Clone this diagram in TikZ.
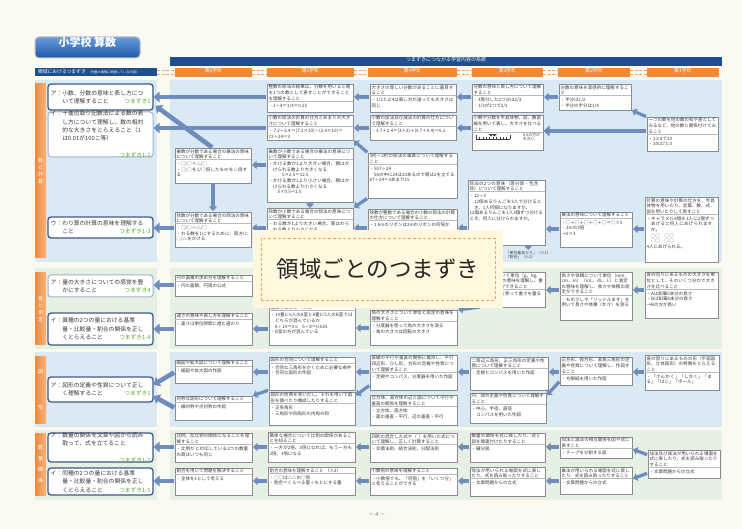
\documentclass[tikz,border=0pt]{standalone}
\usepackage{fontspec}
\setmainfont{Noto Sans CJK JP}
\XeTeXlinebreaklocale "ja"
\XeTeXlinebreakskip=0pt plus 0.5pt
\setlength\parindent{0pt}
\usetikzlibrary{arrows.meta,fit,calc}
\definecolor{bgc}{HTML}{FBFAF1}
\definecolor{hdblue}{HTML}{1D4E8F}
\definecolor{org}{HTML}{EF8A3B}
\definecolor{secblue}{HTML}{D9EAF5}
\definecolor{secgreen}{HTML}{E7F0E5}
\definecolor{arrc}{HTML}{6E8CBC}
\definecolor{lbd}{HTML}{3D5987}
\definecolor{lbl}{HTML}{9EB1CC}
\definecolor{boxg}{HTML}{8C8C8C}
\definecolor{tgreen}{HTML}{5FAE32}
\definecolor{txt}{HTML}{3A3A3A}
\definecolor{ovfill}{HTML}{FFF8DF}
\definecolor{ovdash}{HTML}{F2A35C}
\definecolor{ttop}{HTML}{6A9BDD}
\definecolor{tbot}{HTML}{1E58A6}
\tikzset{
  cbox/.style={draw=boxg, line width=0.6pt, fill=white, inner sep=0pt, outer sep=0pt},
  ctitle/.style={inner sep=0.6pt, outer sep=0pt, align=left, font=\fontsize{4.5}{5.6}\selectfont, text=txt},
  divl/.style={draw=boxg!60, line width=0.4pt},
  arrS/.style={draw=arrc, line width=3.2pt, -{Triangle[width=8pt,length=4.5pt]}, shorten <=1pt, shorten >=1pt},
  arrL/.style={draw=arrc, line width=4.6pt, -{Triangle[width=10.5pt,length=6pt]}, shorten <=1pt, shorten >=0.5pt},
  lboxd/.style={draw=lbd, line width=1.3pt, fill=white, rounded corners=3pt, inner sep=0pt, outer sep=0pt},
  lboxl/.style={draw=lbl, line width=1pt, fill=white, rounded corners=3pt, inner sep=0pt, outer sep=0pt},
  ltext/.style={inner sep=0pt, align=left, font=\fontsize{5.8}{8.4}\selectfont, text=txt},
  obar/.style={left color=org, right color=org!65!white, draw=none, inner sep=0pt},
  otab/.style={fill=org, draw=none, inner sep=0pt, text=white, font=\fontsize{4.8}{5}\selectfont},
  vlab/.style={text=white, align=center, inner sep=0pt},
  zig/.style={draw=org!80, line width=0.5pt, dash pattern=on 3pt off 1.5pt},
  note/.style={inner sep=0.5pt, text=txt, font=\fontsize{3.9}{4.5}\selectfont, align=left},
}
\newcommand\bul[1]{\par\noindent\hangindent=1em\hangafter=1 ・#1}
\newcommand\ind[1]{\par\noindent\hangindent=1em\hangafter=0 #1}
\newcommand\tagg[1]{\hfill{\color{tgreen}#1}}
\newcommand\cbx[7]{%
  \node[cbox, fit={(#2,#3) (#4,#5)}] (#1) {};
  \pgfmathsetmacro\cbw{#4-#2-3.4}%
  \node[ctitle, text width=\cbw pt, anchor=north west] (#1t) at (#2+1,#3+0.6) {#6};
  \draw[divl] (#1t.south -| #1.west) -- (#1t.south -| #1.east);
  \node[ctitle, text width=\cbw pt, anchor=north west] (#1e) at (#1t.south west) {#7};
}
\newcommand\lbx[7]{%
  \node[#6, fit={(#2,#3) (#4,#5)}] (#1) {};
  \pgfmathsetmacro\lbw{#4-#2-5}\pgfmathsetmacro\lby{(#3+#5)/2}%
  \node[ltext, text width=\lbw pt, anchor=west] (#1t) at (#2+2.5,\lby) {#7};
}
\begin{document}
\begin{tikzpicture}[x=1pt,y=-1pt]
\useasboundingbox (0,0) rectangle (742,529);
\fill[bgc] (0,0) rectangle (742,529);
% section backgrounds
\fill[secblue] (35,80) rectangle (157,262);
\fill[secblue] (170,80) rectangle (722,262);
\fill[secgreen] (35,268) rectangle (157,349);
\fill[secgreen] (170,268) rectangle (722,349);
\fill[secblue] (35,352) rectangle (157,427);
\fill[secblue] (170,352) rectangle (722,427);
\fill[secgreen] (35,430) rectangle (157,500);
\fill[secgreen] (170,430) rectangle (722,500);
% header
\node[fit={(35,37) (140,58)}, rounded corners=4pt, top color=ttop, bottom color=tbot, draw=black!25, line width=1pt, inner sep=0pt, text=white, font=\bfseries\fontsize{11}{12}\selectfont] (title) {小学校\ 算数};
\node[fill=hdblue, fit={(170,57) (722,66)}, inner sep=0pt, text=white, font=\fontsize{5}{5}\selectfont] (hbar) {つまずきにつながる学習内容の系統};
\node[fill=hdblue, fit={(35,68) (157,76)}, inner sep=0pt] (lhdr) {};
\node[anchor=west, inner sep=0pt, text=white] at ([xshift=3pt]lhdr.west) {{\fontsize{4.8}{5}\selectfont 領域におけるつまずき}\ {\fontsize{3.2}{4}\selectfont （児童の実態に関連している内容）}};
\node[otab, fit={(175,68) (252,77)}] (g6) {第6学年};
\node[otab, fit={(267,68) (354,77)}] (g5) {第5学年};
\node[otab, fit={(368,68) (457,77)}] (g4) {第4学年};
\node[otab, fit={(472,68) (543,77)}] (g3) {第3学年};
\node[otab, fit={(558,68) (630,77)}] (g2) {第2学年};
\node[otab, fit={(647,68) (719,77)}] (g1) {第1学年};
\foreach \a/\b in {lhdr/g6, g6/g5, g5/g4, g4/g3, g3/g2, g2/g1}{
  \draw[zig] ([yshift=1.8pt]\a.east) -- ([yshift=1.8pt]\a.east -| \b.west);
  \draw[zig] ([yshift=-1.8pt]\a.east) -- ([yshift=-1.8pt]\a.east -| \b.west);
}
% orange bars
\node[obar, fit={(35,84) (46,258)}] (bar1) {};
\node[obar, fit={(35,273) (46,345)}] (bar2) {};
\node[obar, fit={(35,357) (46,423)}] (bar3) {};
\node[obar, fit={(35,433) (46,495)}] (bar4) {};
\node[vlab, font=\fontsize{5}{7}\selectfont] at (bar1.center) {数\\と\\計\\算};
\node[vlab, font=\fontsize{5}{7}\selectfont] at (bar2.center) {量\\と\\測\\定};
\node[vlab, font=\fontsize{5}{36}\selectfont] at (bar3.center) {図\\形};
\node[vlab, font=\fontsize{5}{11}\selectfont] at (bar4.center) {数\\量\\関\\係};
% left boxes
\lbx{L1a}{48}{84}{153}{110}{lboxd}{ア：小数、分数の意味と表し方につ\\\hspace*{2em}いて理解すること\tagg{つまずき1}}
\lbx{L1i}{48}{112}{153}{157}{lboxl}{イ：十進位取り記数法による数の表\\\hspace*{2em}し方について理解し、数の相対\\\hspace*{2em}的な大きさをとらえること（1\\\hspace*{2em}は0.01が100こ等）\\\null\hfill{\color{tgreen}つまずき1-2}}
\lbx{L1u}{48}{217}{153}{238}{lboxd}{ウ：わり算の計算の意味を理解する\\\hspace*{2em}こと\tagg{つまずき1-3}}
\lbx{L2a}{48}{275}{153}{297}{lboxl}{ア：量の大きさについての感覚を豊\\\hspace*{2em}かにすること\tagg{つまずき4}}
\lbx{L2i}{48}{313}{153}{345}{lboxd}{イ：異種の2つの量における基準\\\hspace*{2em}量・比較量・割合の関係を正し\\\hspace*{2em}くとらえること\tagg{つまずき1-4}}
\lbx{L3a}{48}{377}{153}{402}{lboxd}{ア：図形の定義や性質について正し\\\hspace*{2em}く理解すること\tagg{つまずき1}}
\lbx{L4a}{48}{433}{153}{462}{lboxd}{ア：数量の関係を文章や図から読み\\\hspace*{2em}取って、式を立てること\\\null\hfill{\color{tgreen}つまずき1-1}}
\lbx{L4i}{48}{468}{153}{495}{lboxd}{イ：同種の2つの量における基準\\\hspace*{2em}量・比較量・割合の関係を正し\\\hspace*{2em}くとらえること\tagg{つまずき1-1}}
% section 1 boxes
\cbx{B6c}{175}{148}{251}{183}{乗数が分数である場合の乗法の意味について理解すること}{\bul{□/○×△/○}\bul{□/○を1/○倍したものを△倍する}}
\cbx{B6d}{175}{212}{251}{247}{除数が分数である場合の除法の意味について理解すること}{\bul{□/○÷△/○}\bul{わる数を1にするために、両方に○/△をかける}}
\cbx{B5a}{267}{84}{353}{112}{整数の除法の結果は、分数を用いると商を1つの数として表すことができることを理解すること}{\bul{1÷4＝1/4＝0.25}}
\cbx{B5b}{267}{115}{353}{140}{小数の除法の計算の仕方とあまりの大きさについて理解すること}{\bul{7.2÷2.4＝(7.2×10)÷(2.4×10)＝72÷24＝3}}
\cbx{B5c}{267}{148}{353}{202}{乗数が小数である場合の乗法の意味について理解すること}{\bul{かける数が1より大きい場合、積はかけられる数より大きくなる}\ind{\hspace*{2em}5×2.5＝12.5}\bul{かける数が1より小さい場合、積はかけられる数より小さくなる}\ind{\hspace*{2em}5×0.5＝2.5}}
\cbx{B5d}{267}{208}{353}{255}{除数が小数である場合の除法の意味について理解すること}{\bul{わる数が1より大きい場合、商はわられる数より小さくなる}\bul{わる数が1より小さい場合、商はわられる数より大きくなる}}
\cbx{B4a}{370}{84}{456}{112}{大きさの等しい分数があることに着目すること}{\bul{1/2と2/4は表し方が違っても大きさは同じ}}
\cbx{B4b}{370}{115}{456}{140}{小数の加法及び減法の計算の仕方について理解すること}{\bul{3.7＋2.4＝(3＋2)＋(0.7＋0.4)＝6.1}}
\cbx{B4c}{368}{153}{457}{198}{3桁÷2桁の除法の筆算について理解すること}{\bul{567÷24}\ind{56の中に24は20あるので商は2を立てる}\ind{87÷24＝3あまり15}}
\cbx{B4d}{368}{209}{457}{255}{除数が整数である場合の小数の除法の計算の仕方について理解すること}{\bul{1.6mのリボンは2mのリボンの何倍か}}
\cbx{B3a}{472}{84}{543}{112}{分数の意味と表し方について理解すること}{\bul{3等分した2つ分は2/3}\bul{1/3が2つで2/3}}
\cbx{B3b}{472}{115}{543}{150}{小数や分数を半具体物、図、数直線を用いて表し、大きさを比べること}{\rule{0pt}{9pt}}
\coordinate (nl) at ($(B3be.west)+(3,2)$);
\draw[txt, line width=0.5pt] (nl) -- ++(34,0);
\foreach \i in {0,...,10}{\draw[txt, line width=0.3pt] ($(nl)+(\i*3.4,0)$) -- ++(0,-1.6);}
\draw[txt, line width=0.6pt] (nl) -- ++(0,-4);
\draw[txt, line width=0.6pt] ($(nl)+(34,0)$) -- ++(0,-4);
\fill[txt] ($(nl)+(15,-2.5)$) -- ++(2.4,-2.5) -- ++(-4.8,0) -- cycle;
\fill[txt] ($(nl)+(18.4,-2.5)$) -- ++(2.4,-2.5) -- ++(-4.8,0) -- cycle;
\node[note, anchor=east] at ([xshift=-1pt]B3be.east) {0.6の方が\\大きい};
\cbx{B3c}{468}{180}{545}{245}{除法の2つの意味（等分除・包含除）について理解すること}{\bul{12÷3}\ind{12個あるりんごを3人で分けるとき、1人何個になりますか。}\ind{12個あるりんごを1人3個ずつ分けるとき、何人に分けられますか。}}
\node[note, anchor=north west] (N1) at (505,250) {「単位量あたり」（※1）\\「割合」（※2）};
\cbx{B2a}{559}{84}{631}{110}{分数の意味を実感的に理解すること}{\bul{半分は1/2}\bul{半分の半分は1/4}}
\cbx{B2c}{560}{212}{632}{247}{乗法の意味について理解すること}{\bul{□＋□＋□＋□＋□＝□×5}\bul{2mの3倍}\ind{→2×3}}
\cbx{B1b}{647}{117}{718}{151}{一つの数を他の数の和や差としてみるなど、他の数と関係付けてみること}{\bul{2と8で10}\bul{10は7と3}}
\cbx{B1c}{645}{197}{718}{262}{計算の意味や計算の仕方を、半具体物を用いたり、言葉、数、式、図を用いたりして表すこと}{\bul{キャラメル8個を1人に2個ずつあげると何人にあげられますか。}\ind{○○\quad ○○}\ind{○○\quad ○○}\ind{4人にあげられる。}}
% section 2 boxes
\cbx{C6a}{175}{275}{252}{296}{円の面積の求め方を理解すること}{\bul{円の面積、円周の公式}}
\cbx{C6b}{175}{313}{252}{345}{速さの意味や表し方を理解すること}{\bul{速さは単位時間に進む道のり}}
\cbx{C5b}{269}{299}{355}{345}{単位量あたりの大きさの意味や求め方を理解すること\ （※1）}{\bul{10畳に6人のA室と8畳に5人のB室ではどちらが混んでいるか}\ind{6÷10＝0.6\quad 5÷8＝0.625}\bul{B室の方が混んでいる}}
\cbx{C4b}{370}{310}{457}{345}{角の大きさについて単位と測定の意味を理解すること}{\bul{分度器を使って角の大きさを測る}\bul{角の大きさは回転の大きさ}}
\cbx{C3a}{481}{272}{545}{307}{重さについて単位（g、kg、t）と測定の意味を理解し、重さの測定ができること}{\bul{はかりを使って重さを量る}}
\cbx{C2a}{560}{272}{632}{320}{長さや体積について単位（mm、cm、m）（mL、dL、L）と測定の意味を理解し、長さや体積の測定ができること}{\bul{ものさしや「リットルます」を用いて長さや体積（かさ）を測る}}
\cbx{C1a}{645}{272}{718}{318}{身の回りにあるものの大きさを単位として、そのいくつ分かで大きさを比べること}{\bul{Aは鉛筆5本分の長さ}\bul{Bは鉛筆6本分の長さ}\ind{→Bの方が長い}}
% section 3 boxes
\cbx{D6a}{175}{360}{252}{383}{縮図や拡大図について理解すること}{\bul{縮図や拡大図の作図}}
\cbx{D6b}{175}{396}{252}{420}{対称な図形について理解すること}{\bul{線対称や点対称の作図}}
\cbx{D5a}{269}{357}{355}{390}{図形の合同について理解すること}{\bul{合同な三角形をかくために必要な条件}\bul{合同な図形の作図}}
\cbx{D5b}{269}{392}{355}{425}{図形の性質を見いだし、それを用いて図形を調べたり構成したりすること}{\bul{正多角形}\bul{三角形や四角形の内角の和}}
\cbx{D4a}{370}{355}{457}{390}{直線の平行や垂直の関係に着目し、平行四辺形、ひし形、台形の定義や性質について理解すること}{\bul{定規やコンパス、分度器を用いた作図}}
\cbx{D4b}{370}{395}{457}{425}{立方体、直方体の辺と面について平行や垂直の関係を理解すること}{\bul{立方体、直方体}\bul{面の垂直・平行、辺の垂直・平行}}
\cbx{D3a}{470}{357}{548}{390}{二等辺三角形、正三角形の定義や性質について理解すること}{\bul{定規とコンパスを用いた作図}}
\cbx{D3b}{470}{393}{546}{423}{円、球の定義や性質について理解すること}{\bul{中心、半径、直径}\bul{コンパスを用いた作図}}
\cbx{D2a}{560}{357}{632}{385}{正方形、長方形、直角三角形の定義や性質について理解し、作図すること}{\bul{方眼紙を用いた作図}}
\cbx{D1a}{645}{355}{719}{390}{身の回りにあるものの形（平面図形、立体図形）の特徴をとらえること}{\bul{「さんかく」「しかく」「まる」「はこ」「ボール」}}
% section 4 boxes
\cbx{E6a}{175}{433}{252}{462}{比例、反比例の関係になることを理解すること}{\bul{比例だと対応している2つの数量の商はいつも同じ}}
\cbx{E6b}{175}{468}{252}{495}{割合を用いて問題を解決すること}{\bul{全体を1として考える}}
\cbx{E5a}{268}{432}{355}{462}{簡単な場合について比例の関係があることを知ること}{\bul{一方が2倍、3倍になれば、もう一方も2倍、3倍になる}}
\cbx{E5b}{268}{467}{355}{495}{割合の意味を理解すること\ （※2）}{\bul{○○は△△の□倍}\bul{割合＝くらべる量÷もとにする量}}
\cbx{E4a}{370}{433}{457}{462}{四則の混合した式や（\ ）を用いた式について理解し、正しく計算すること}{\bul{交換法則、結合法則、分配法則}}
\cbx{E4b}{370}{468}{457}{495}{小数倍の意味を理解すること}{\bul{小数倍でも、「何倍」を「いくつ分」と考えることができる}}
\cbx{E3a}{470}{433}{545}{462}{数量の関係を式に表したり、式と図を関連付けたりすること}{\bul{線分図}}
\cbx{E3b}{470}{467}{545}{496}{除法が用いられる場面を式に表したり、式を読み取ったりすること}{\bul{文章問題からの立式}}
\cbx{E2a}{560}{437}{632}{458}{加法と減法の相互関係を図や式に表すこと}{\bul{テープを分割する図}}
\cbx{E2b}{560}{467}{632}{494}{乗法が用いられる場面を式に表したり、式を読み取ったりすること}{\bul{文章問題からの立式}}
\cbx{E1}{648}{450}{720}{478}{加法及び減法が用いられる場面を式に表したり、式を読み取ったりすること}{\bul{文章問題からの立式}}
% arrows section 1
\draw[arrL] (B5a.west |- 0,97) -- (L1a.east |- 0,97);
\draw[arrL] (B5b.west |- 0,128) -- (L1i.east |- 0,128);
\draw[arrL, shorten >=3pt] (B6c.north) -- (L1a.east |- 0,104);
\draw[arrS] (B6c.south) -- (B6d.north);
\draw[arrL] (B6d.west |- 0,228) -- (L1u.east |- 0,228);
\draw[arrS] (B5c.west |- 0,165) -- (B6c.east |- 0,165);
\draw[arrS] (B5d.west |- 0,228) -- (B6d.east |- 0,228);
\draw[arrS, line width=2.2pt, shorten <=0pt, shorten >=0pt] (B5c.south) -- (B5d.north);
\draw[arrS] (B4a.west |- 0,97) -- (B5a.east |- 0,97);
\draw[arrS] (B4b.west |- 0,128) -- (B5b.east |- 0,128);
\draw[arrS] (B4c.north west) -- (B5b.south east);
\draw[arrS] (B4c.south west) -- (B5d.north east);
\draw[arrS] (B4d.west |- 0,228) -- (B5d.east |- 0,228);
\draw[arrS] (B3a.west |- 0,97) -- (B4a.east |- 0,97);
\draw[arrS] (B3b.west |- 0,128) -- (B4b.east |- 0,128);
\draw[arrS] (B2a.west |- 0,97) -- (B3a.east |- 0,97);
\draw[arrL] (B1b.west |- 0,131) -- (B3b.east |- 0,131);
\draw[arrS] (B1b.north west) -- (B2a.south east);
\draw[arrS] (B3c.west |- 0,228) -- (B4d.east |- 0,228);
\draw[arrS] (B2c.west |- 0,229) -- (B3c.east |- 0,229);
\draw[arrS] (B1c.west |- 0,229) -- (B2c.east |- 0,229);
\draw[arrS, line width=2.2pt, shorten <=0pt, shorten >=0pt] (B3c.south -| N1.north) -- (N1.north);
% arrows section 2
\draw[arrL] (C6a.west |- 0,285) -- (L2a.east |- 0,285);
\draw[arrL] (C6b.west |- 0,329) -- (L2i.east |- 0,329);
\draw[arrS] (C5b.west |- 0,329) -- (C6b.east |- 0,329);
\draw[arrS] (C4b.west |- 0,328) -- (C5b.east |- 0,328);
\draw[arrS] (C3a.south west) -- (C4b.north east);
\draw[arrS] (C2a.west |- 0,290) -- (C3a.east |- 0,290);
\draw[arrS] (C1a.west |- 0,290) -- (C2a.east |- 0,290);
% arrows section 3
\draw[arrL] (D6a.west |- 0,372) -- (L3a.east |- 0,385);
\draw[arrL] (D6b.west |- 0,408) -- (L3a.east |- 0,396);
\draw[arrS] (D5a.west |- 0,372) -- (D6a.east |- 0,372);
\draw[arrS] (D5a.south west) -- (D6b.north east);
\draw[arrS] (D4a.west |- 0,372) -- (D5a.east |- 0,372);
\draw[arrS] (D4a.west |- 0,385) -- (D5b.east |- 0,396);
\draw[arrS] (D3a.west |- 0,372) -- (D4a.east |- 0,372);
\draw[arrS] (D2a.west |- 0,372) -- (D3a.east |- 0,372);
\draw[arrS] (D2a.west |- 0,381) -- (D3b.east |- 0,396);
\draw[arrS] (D1a.west |- 0,372) -- (D2a.east |- 0,372);
% arrows section 4
\draw[arrL] (E6a.west |- 0,447) -- (L4a.east |- 0,447);
\draw[arrL] (E6b.west |- 0,481) -- (L4i.east |- 0,481);
\draw[arrS] (E5a.west |- 0,447) -- (E6a.east |- 0,447);
\draw[arrS] (E5b.west |- 0,481) -- (E6b.east |- 0,481);
\draw[arrS] (E4a.west |- 0,447) -- (E5a.east |- 0,447);
\draw[arrS] (E4b.west |- 0,481) -- (E5b.east |- 0,481);
\draw[arrS] (E3a.west |- 0,447) -- (E4a.east |- 0,447);
\draw[arrS] (E3b.west |- 0,481) -- (E4b.east |- 0,481);
\draw[arrS] (E2a.west |- 0,447) -- (E3a.east |- 0,447);
\draw[arrS] (E2b.west |- 0,481) -- (E3b.east |- 0,481);
\draw[arrS] (E1.west |- 0,455) -- (E2a.east |- 0,449);
\draw[arrS] (E1.west |- 0,473) -- (E2b.east |- 0,479);
% overlay
\node[fill=ovfill, fit={(253,230) (503,308)}, inner sep=0pt] (ov) {};
\node[draw=ovdash, line width=0.7pt, dash pattern=on 3pt off 2pt, fit={(261,238) (495,300)}, inner sep=0pt] (ovd) {};
\node[font=\fontsize{22.5}{24}\selectfont, text=black!85, inner sep=0pt] (ovt) at (ov.center) {領域ごとのつまずき};
% page number
\node[font=\fontsize{5.5}{6}\selectfont, text=black!55] (pg) at (377,515) {－ 4 －};
\end{tikzpicture}
\end{document}
